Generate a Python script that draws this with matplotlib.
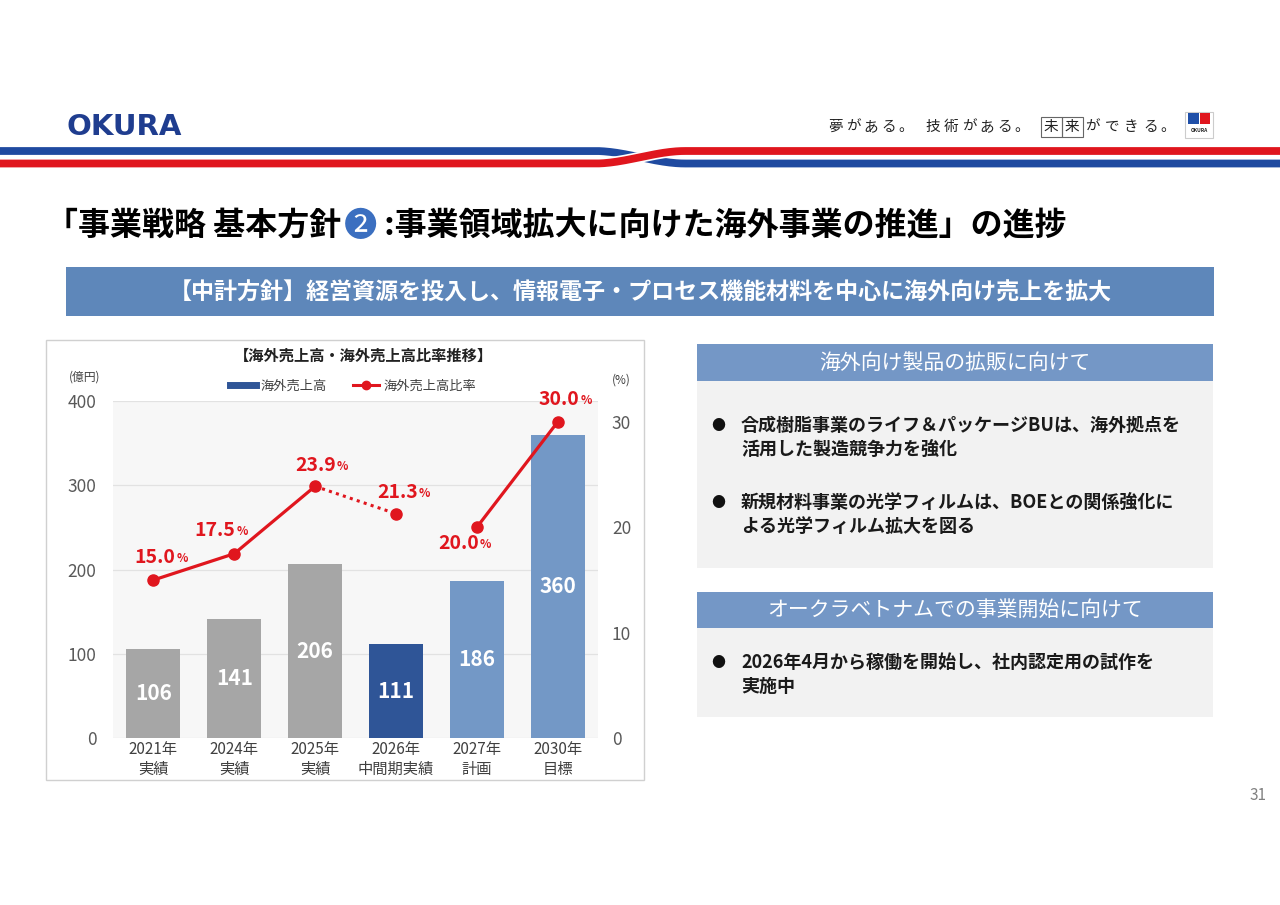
import numpy as np
import matplotlib.pyplot as plt
from matplotlib.patches import Rectangle
from matplotlib.lines import Line2D

plt.rcParams['font.family'] = ['Noto Sans CJK JP', 'DejaVu Sans']

# chart data
years = ['2021年\n実績', '2024年\n実績', '2025年\n実績', '2026年\n中間期実績', '2027年\n計画', '2030年\n目標']
sales = [106, 141, 206, 111, 186, 360]          # 億円
ratio = [15.0, 17.5, 23.9, 21.3, 20.0, 30.0]    # %
bar_colors = ['#a6a6a6', '#a6a6a6', '#a6a6a6', '#2f5597', '#7398c6', '#7398c6']
# label offsets (pixels) of the % labels from their points
label_offsets = [(22, 23), (1, 23), (21, 21), (22, 21), (2, -16), (22, 23)]

panel1_items = ['合成樹脂事業のライフ＆パッケージBUは、海外拠点を\n活用した製造競争力を強化',
                '新規材料事業の光学フィルムは、BOEとの関係強化に\nよる光学フィルム拡大を図る']
panel2_items = ['2026年4月から稼働を開始し、社内認定用の試作を\n実施中']

RED = '#e0161e'
NAVY = '#1f3d8f'

fig = plt.figure(figsize=(12.8, 9.05), dpi=100)

# ---- slide background in pixel coords
bg = fig.add_axes([0, 0, 1, 1])
bg.set_xlim(0, 1280)
bg.set_ylim(905, 0)
bg.axis('off')

# logo
bg.text(66, 127, 'OKURA', fontsize=21, weight='bold', color=NAVY, va='center', ha='left',
        family='DejaVu Sans')

# tagline
tag = '夢がある。技術がある。未来ができる。'
tag_x = [835, 853, 871, 889, 906, 933, 951, 969, 987, 1005, 1022,
         1051, 1072, 1092, 1112, 1131, 1151, 1168]
for ch, tx in zip(tag, tag_x):
    bg.text(tx, 127, ch, fontsize=10.5, color='#222222', ha='center', va='center')
    if ch in '未来':
        bg.add_patch(Rectangle((tx - 10.5, 117), 21, 20, fill=False, ec='#666666', lw=0.8))

# small logo
bg.add_patch(Rectangle((1185, 112), 28, 26, fc='white', ec='#cccccc', lw=0.8))
bg.add_patch(Rectangle((1188, 113.5), 11, 11, fc='#1f4fa8', ec='none'))
bg.add_patch(Rectangle((1200, 113.5), 10, 11, fc='#e0161e', ec='none'))
bg.text(1199, 131, 'OKURA', fontsize=3.5, color='#222222', ha='center', va='center', weight='bold')

# stripes
xs = np.linspace(0, 1280, 800)
t = np.clip((xs - 595) / 90, 0, 1)
s = t * t * (3 - 2 * t)
bg.plot(xs, 151 + 12.5 * s, color='#1f4aa0', lw=5.6, solid_capstyle='butt')
bg.plot(xs, 163.5 - 12.5 * s, color='white', lw=8, solid_capstyle='butt')
bg.plot(xs, 163.5 - 12.5 * s, color=RED, lw=5.6, solid_capstyle='butt')

# title
t1 = bg.text(46, 226, '「事業戦略 基本方針', fontsize=23, weight='bold', va='center', ha='left')
t2 = bg.annotate('❷', xy=(1, 0.5), xycoords=t1, xytext=(2, 0), textcoords='offset points',
                 va='center', ha='left', fontsize=24, color='#3b6fc0')
bg.annotate(' :事業領域拡大に向けた海外事業の推進」の進捗', xy=(1, 0.5), xycoords=t2,
            va='center', ha='left', fontsize=23, weight='bold')

# policy band
bg.add_patch(Rectangle((66, 267), 1148, 49, fc='#5e87ba', ec='none'))
bg.text(640, 293, '【中計方針】経営資源を投入し、情報電子・プロセス機能材料を中心に海外向け売上を拡大',
        fontsize=16.6, weight='bold', color='white', ha='center', va='center')

# chart frame
bg.add_patch(Rectangle((46, 340), 598, 440, fc='white', ec='#d0d0d0', lw=1))
bg.text(363, 356, '【海外売上高・海外売上高比率推移】', fontsize=11, weight='bold',
        ha='center', va='center', color='#222222')
bg.text(85, 377, '(億円)', fontsize=8.5, ha='center', va='center', color='#404040')
bg.text(621, 380, '(%)', fontsize=8.5, ha='center', va='center', color='#404040')

# right panels
bg.add_patch(Rectangle((697, 344), 516, 37, fc='#7497c6', ec='none'))
bg.add_patch(Rectangle((697, 381), 516, 187, fc='#f2f2f2', ec='none'))
bg.text(955, 363, '海外向け製品の拡販に向けて', fontsize=15, color='white', ha='center', va='center')
for yy, item in zip([437.5, 514.5], panel1_items):
    bg.text(718, yy - 11.5, '●', fontsize=10, ha='center', va='center', color='#111111')
    bg.text(741, yy, item, fontsize=13, weight='bold', ha='left', va='center',
            color='#1a1a1a', linespacing=1.3)

bg.add_patch(Rectangle((697, 592), 516, 36, fc='#7497c6', ec='none'))
bg.add_patch(Rectangle((697, 628), 516, 89, fc='#f2f2f2', ec='none'))
bg.text(955, 610, 'オークラベトナムでの事業開始に向けて', fontsize=15, color='white',
        ha='center', va='center')
for yy, item in zip([674.5], panel2_items):
    bg.text(718, yy - 11.5, '●', fontsize=10, ha='center', va='center', color='#111111')
    bg.text(741, yy, item, fontsize=13, weight='bold', ha='left', va='center',
            color='#1a1a1a', linespacing=1.3)

bg.text(1258, 795, '31', fontsize=11, color='#808080', ha='center', va='center')

# ---- the chart
ax = fig.add_axes([113 / 1280, 1 - 738 / 905, 485 / 1280, 337 / 905])
ax.set_facecolor('#f7f7f7')
x = np.arange(len(years))
ax.bar(x, sales, width=0.67, color=bar_colors, zorder=2)
for xi, v in zip(x, sales):
    ax.text(xi, v / 2, str(v), ha='center', va='center', color='white',
            fontsize=15, weight='bold', zorder=3)
ax.set_xlim(-0.5, 5.5)
ax.set_ylim(0, 400)
ax.set_yticks([0, 100, 200, 300, 400])
ax.set_xticks(x)
ax.set_xticklabels(years, fontsize=11, color='#404040', linespacing=1.25)
ax.yaxis.grid(True, color='#e2e2e2', lw=0.9)
ax.set_axisbelow(True)
ax.tick_params(axis='y', length=0, labelsize=12.5, labelcolor='#595959', pad=12)
ax.tick_params(axis='x', length=0, pad=2)
for sp in ax.spines.values():
    sp.set_visible(False)

ax2 = ax.twinx()
ax2.set_ylim(0, 32)
ax2.set_yticks([0, 10, 20, 30])
ax2.tick_params(axis='y', length=0, labelsize=12.5, labelcolor='#595959', pad=10)
for sp in ax2.spines.values():
    sp.set_visible(False)

ax2.plot(x[:3], ratio[:3], color=RED, lw=2.3, zorder=3)
ax2.plot(x[2:4], ratio[2:4], color=RED, lw=2.2, ls=(0, (1, 1.4)), zorder=3)
ax2.plot(x[4:], ratio[4:], color=RED, lw=2.3, zorder=3)
ax2.plot(x, ratio, 'o', color=RED, ms=8, zorder=4)

for xi, r, (dx, dy) in zip(x, ratio, label_offsets):
    ax2.annotate(f'{r:.1f}', xy=(xi, r), xytext=(dx, dy), textcoords='offset pixels',
                 ha='right', va='center', color=RED, fontsize=14, weight='bold')
    ax2.annotate('%', xy=(xi, r), xytext=(dx + 1, dy - 1), textcoords='offset pixels',
                 ha='left', va='center', color=RED, fontsize=8.5, weight='bold')

handles = [Line2D([], [], color='#2f5597', lw=5),
           Line2D([], [], color=RED, lw=2.2, marker='o', ms=6)]
ax2.legend(handles, ['海外売上高', '海外売上高比率'], loc='center', bbox_to_anchor=(0.495, 1.045),
           ncol=2, frameon=False, fontsize=9.5, handlelength=2.0, columnspacing=2.0,
           handletextpad=0.3, labelcolor='#404040')

fig.savefig('out.png', dpi=100)
